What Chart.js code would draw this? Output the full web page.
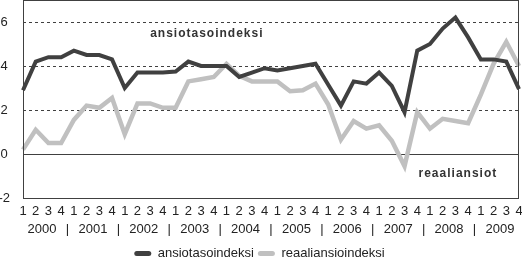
<!DOCTYPE html>
<html><head><meta charset="utf-8">
<script src="https://cdn.jsdelivr.net/npm/chart.js@4.4.0/dist/chart.umd.min.js"></script>
<style>html,body{margin:0;padding:0;background:#fff}#wrap{width:522px;height:264px}</style>
</head><body><div id="wrap"><canvas id="c" width="522" height="264"></canvas></div>
<script>
const years = ['2000','2001','2002','2003','2004','2005','2006','2007','2008','2009'];
const quarters = ['1','2','3','4'];
const seriesNames = ['ansiotasoindeksi','reaaliansioindeksi'];
const ansiotasoindeksi = [
  2.9, 4.2, 4.4, 4.4, 4.7, 4.5, 4.5, 4.3, 3.0, 3.7,
  3.7, 3.7, 3.75, 4.2, 4.0, 4.0, 4.0, 3.5, 3.7, 3.9,
  3.8, 3.9, 4.0, 4.1, 3.15, 2.2, 3.3, 3.2, 3.7, 3.1,
  1.9, 4.7, 5.0, 5.7, 6.2, 5.3, 4.3, 4.3, 4.2, 2.95
];
const reaaliansioindeksi = [
  0.2, 1.1, 0.5, 0.5, 1.55, 2.2, 2.1, 2.55, 0.9, 2.3,
  2.3, 2.1, 2.1, 3.3, 3.4, 3.5, 4.1, 3.55, 3.3, 3.3,
  3.3, 2.85, 2.9, 3.2, 2.25, 0.65, 1.5, 1.15, 1.3, 0.6,
  -0.55, 1.9, 1.15, 1.6, 1.5, 1.4, 2.7, 4.1, 5.1, 4.0
];
const yTicks = [-2, 0, 2, 4, 6];
const annotationTexts = ['ansiotasoindeksi', 'reaaliansiot'];

const labels = years.flatMap(() => quarters);
const numFont = "'Liberation Sans Narrow', 'Liberation Sans', Arial, sans-serif";
const txtFont = "'Liberation Sans', Arial, sans-serif";
const DARK = '#404040', LIGHT = '#c0c0c0', TEXT = '#222';

const extras = {
  id: 'extras',
  afterDraw(chart) {
    const ctx = chart.ctx, a = chart.chartArea, xs = chart.scales.x, ys = chart.scales.y;
    ctx.save();
    // frame
    ctx.strokeStyle = DARK; ctx.lineWidth = 1; ctx.setLineDash([]);
    ctx.strokeRect(Math.round(a.left) + 0.5, Math.round(a.top) + 0.5,
      Math.round(a.right) - Math.round(a.left) - 1, Math.round(a.bottom) - Math.round(a.top));
    // year labels and separators
    ctx.fillStyle = TEXT; ctx.font = "13px " + numFont;
    ctx.textAlign = 'center'; ctx.textBaseline = 'middle';
    const yy = a.bottom + 31;
    years.forEach((y, k) => {
      const xc = (xs.getPixelForValue(4 * k + 1) + xs.getPixelForValue(4 * k + 2)) / 2;
      ctx.fillText(y, xc, yy);
      if (k > 0) {
        const xb = (xs.getPixelForValue(4 * k - 1) + xs.getPixelForValue(4 * k)) / 2;
        ctx.fillText('|', xb, yy);
      }
    });
    // annotations
    ctx.font = "bold 12px " + txtFont;
    ctx.letterSpacing = '1px';
    ctx.fillStyle = '#333'; ctx.textAlign = 'left';
    ctx.fillText(annotationTexts[0], xs.getPixelForValue(10), ys.getPixelForValue(5.45));
    ctx.fillText(annotationTexts[1], xs.getPixelForValue(31.1), ys.getPixelForValue(-0.9));
    ctx.restore();
  }
};

new Chart(document.getElementById('c'), {
  type: 'line',
  data: {
    labels,
    datasets: [
      { label: seriesNames[0], data: ansiotasoindeksi, borderColor: DARK, backgroundColor: DARK,
        borderWidth: 4, pointRadius: 0, tension: 0, fill: false },
      { label: seriesNames[1], data: reaaliansioindeksi, borderColor: LIGHT, backgroundColor: LIGHT,
        borderWidth: 4.5, pointRadius: 0, tension: 0, fill: false }
    ]
  },
  options: {
    responsive: false, animation: false, devicePixelRatio: 1,
    layout: { padding: { top: 0, right: 3, left: 0, bottom: -6 } },
    plugins: {
      tooltip: { enabled: false },
      legend: {
        position: 'bottom',
        labels: {
          color: TEXT, font: { family: txtFont, size: 13 },
          boxWidth: 17, boxHeight: 5, padding: 4, useBorderRadius: true, borderRadius: 2.5,
          generateLabels: (chart) => chart.data.datasets.map((d, i) => ({
            text: d.label, fillStyle: d.borderColor, strokeStyle: d.borderColor,
            lineWidth: 0, datasetIndex: i, hidden: false, fontColor: TEXT, borderRadius: 2.5
          }))
        }
      }
    },
    scales: {
      x: {
        type: 'category', offset: false,
        grid: { display: false, drawTicks: false },
        border: { display: false },
        ticks: { color: TEXT, font: { family: numFont, size: 13 }, autoSkip: false, maxRotation: 0, padding: 6 },
        afterFit: (s) => { s.height = 45; s.paddingLeft = 0; s.paddingRight = 0; }
      },
      y: {
        min: -2, max: 7,
        afterBuildTicks: (s) => { s.ticks = yTicks.map(v => ({ value: v })); },
        grid: { color: DARK, lineWidth: 1, drawTicks: false },
        border: { display: false, dash: (c) => (c.tick && c.tick.value === 0) ? [] : [3, 3] },
        ticks: { color: TEXT, font: { family: numFont, size: 13 }, padding: 13, crossAlign: 'center' },
        afterFit: (s) => { s.width = 23; s.paddingTop = 0; s.paddingBottom = 0; }
      }
    }
  },
  plugins: [extras]
});
</script></body></html>
